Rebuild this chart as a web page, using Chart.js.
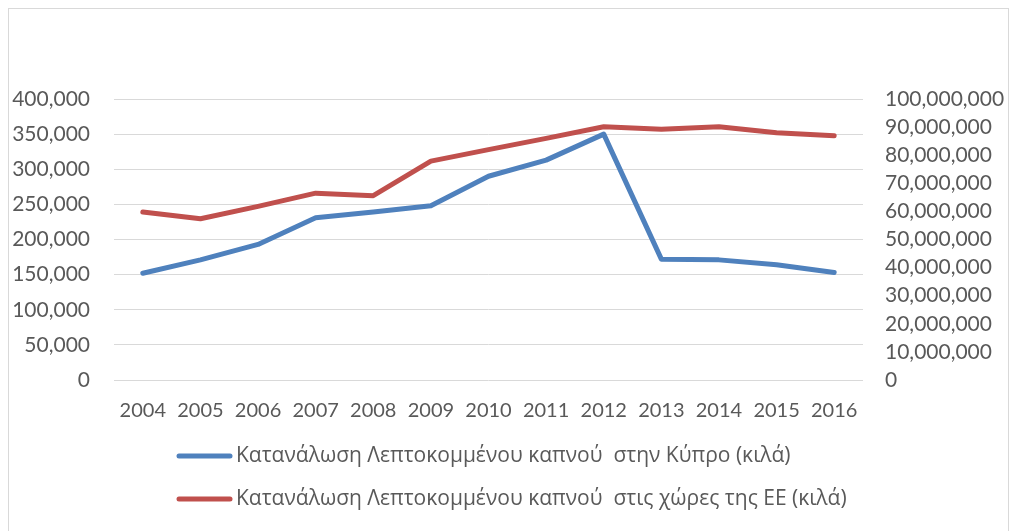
<!DOCTYPE html>
<html>
<head>
<meta charset="utf-8">
<script src="https://cdn.jsdelivr.net/npm/chart.js@4.4.0/dist/chart.umd.min.js"></script>
<style>
    html, body { margin: 0; padding: 0; background: #fff; }
    #wrap { width: 1010px; height: 531px; }
</style>
</head>
<body>
<div id="wrap"><canvas id="chart" width="1010" height="531"></canvas></div>
<script>
const years = ['2004', '2005', '2006', '2007', '2008', '2009', '2010', '2011', '2012', '2013', '2014', '2015', '2016'];
const cyprusKg = [152000, 171000, 193000, 231000, 239000, 248000, 290000, 313000, 350000, 172000, 171000, 164000, 153000];
const euKg = [59800000, 57400000, 61800000, 66500000, 65600000, 77900000, 82000000, 86000000, 90100000, 89200000, 90100000, 88000000, 86900000];
const seriesNames = [
    'Κατανάλωση Λεπτοκομμένου καπνού  στην Κύπρο (κιλά)',
    'Κατανάλωση Λεπτοκομμένου καπνού  στις χώρες της ΕΕ (κιλά)'
];
const seriesColors = ['#4f81bd', '#c0504d'];

const textColor = '#595959';
const gridColor = '#d9d9d9';
const numFont = { family: 'Lato', size: 20 };
const axisFont = { family: 'Lato', size: 21 };

// outer frame + stacked legend under the x axis
const frameAndLegend = {
    id: 'frameAndLegend',
    beforeDraw(chart) {
        const ctx = chart.ctx;
        ctx.save();
        ctx.strokeStyle = gridColor;
        ctx.lineWidth = 1;
        ctx.strokeRect(8.5, 8.5, chart.width - 10, chart.height + 10);
        ctx.restore();
    },
    afterDraw(chart) {
        const ctx = chart.ctx;
        const area = chart.chartArea;
        const x0 = area.left + 63;
        chart.data.datasets.forEach((ds, i) => {
            const y = area.bottom + 76 + i * 43;
            ctx.save();
            ctx.strokeStyle = ds.borderColor;
            ctx.lineWidth = 5;
            ctx.lineCap = 'round';
            ctx.beginPath();
            ctx.moveTo(x0 + 2, y);
            ctx.lineTo(x0 + 53, y);
            ctx.stroke();
            ctx.fillStyle = textColor;
            ctx.font = '21px "Open Sans"';
            ctx.textBaseline = 'middle';
            ctx.fillText(ds.label, x0 + 59, y);
            ctx.restore();
        });
    }
};

function makeSeries(label, data, color, axis) {
    return {
        label: label,
        data: data,
        yAxisID: axis,
        borderColor: color,
        backgroundColor: color,
        borderWidth: 5,
        borderCapStyle: 'round',
        borderJoinStyle: 'round',
        pointRadius: 0,
        tension: 0,
        fill: false
    };
}

const chart = new Chart(document.getElementById('chart'), {
    type: 'line',
    data: {
        labels: years,
        datasets: [
            makeSeries(seriesNames[0], cyprusKg, seriesColors[0], 'y'),
            makeSeries(seriesNames[1], euKg, seriesColors[1], 'y1')
        ]
    },
    options: {
        responsive: false,
        animation: false,
        layout: { padding: { top: 99, bottom: 89, left: 0, right: 0 } },
        plugins: {
            legend: { display: false },
            tooltip: { enabled: false },
            title: { display: false }
        },
        scales: {
            x: {
                offset: true,
                grid: { display: false, drawTicks: false },
                border: { display: false },
                ticks: { color: textColor, font: numFont, padding: 19, maxRotation: 0, autoSkip: false }
            },
            y: {
                position: 'left',
                min: 0,
                max: 400000,
                grid: { color: gridColor, lineWidth: 1, drawTicks: false },
                border: { display: false },
                ticks: {
                    stepSize: 50000,
                    autoSkip: false,
                    color: textColor,
                    font: axisFont,
                    padding: 24,
                    callback: v => v.toLocaleString('en-US')
                },
                afterFit(scale) { scale.width = 114; }
            },
            y1: {
                position: 'right',
                min: 0,
                max: 100000000,
                grid: { display: false, drawTicks: false },
                border: { display: false },
                ticks: {
                    stepSize: 10000000,
                    autoSkip: false,
                    color: textColor,
                    font: axisFont,
                    padding: 22,
                    callback: v => v.toLocaleString('en-US')
                },
                afterFit(scale) { scale.width = 147; }
            }
        }
    },
    plugins: [frameAndLegend]
});
</script>
</body>
</html>
